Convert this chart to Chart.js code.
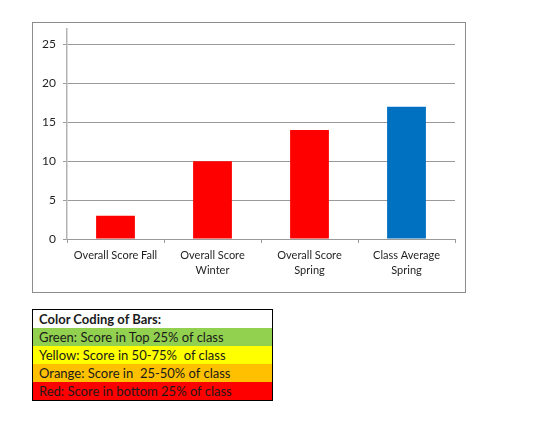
<!DOCTYPE html>
<html>
<head>
<meta charset="utf-8">
<script src="https://cdn.jsdelivr.net/npm/chart.js@4.4.1/dist/chart.umd.min.js"></script>
<style>
    html, body { margin: 0; padding: 0; background: #fff; }
    body { width: 543px; height: 424px; position: relative; overflow: hidden; font-family: Lato, 'Open Sans', sans-serif; }
    #chartBox {
        position: absolute; left: 32px; top: 22px; width: 434px; height: 271px;
        border: 1px solid #8c8c8c; box-sizing: border-box;
    }
    #chartBox canvas { display: block; }
    #colorKey {
        position: absolute; left: 32px; top: 309px; width: 241px;
        border: 1px solid #000; box-sizing: border-box;
        border-collapse: collapse; font-size: 13px; color: #1a1a1a;
    }
    #colorKey td { padding: 0 0 0 6px; height: 18px; line-height: 18px; white-space: nowrap; }
    #colorKey .head td { font-weight: bold; height: 18px; }
</style>
</head>
<body>
<div id="chartBox"><canvas id="scoreChart" width="432" height="269"></canvas></div>
<table id="colorKey"><tbody id="colorKeyBody"></tbody></table>

<script>
const categories = [
    ['Overall Score Fall'],
    ['Overall Score', 'Winter'],
    ['Overall Score', 'Spring'],
    ['Class Average', 'Spring']
];
const scores = [3, 10, 14, 17];
const barColors = ['#ff0000', '#ff0000', '#ff0000', '#0070c0'];
const yTicks = [0, 5, 10, 15, 20, 25];

const keyTitle = 'Color Coding of Bars:';
const keyLabels = [
    'Green: Score in Top 25% of class',
    'Yellow: Score in 50-75%  of class',
    'Orange: Score in  25-50% of class',
    'Red: Score in bottom 25% of class'
];
const keyColors = ['#92d050', '#ffff00', '#ffc000', '#ff0000'];

const theme = {
    grid: '#9a9a9a',
    axis: '#b4b4b4',
    text: '#1f1f1f'
};

Chart.defaults.font.family = "Lato, 'Open Sans', sans-serif";
Chart.defaults.font.size = 11;
Chart.defaults.color = theme.text;

document.addEventListener('DOMContentLoaded', () => {
    renderKey();
    renderChart();
});

function renderKey() {
    const tbody = document.getElementById('colorKeyBody');
    const rows = [`<tr class="head"><td>${keyTitle}</td></tr>`];
    keyLabels.forEach((label, i) => {
        rows.push(`<tr style="background:${keyColors[i]}"><td>${label.replace(/ /g, '&nbsp;')}</td></tr>`);
    });
    tbody.innerHTML = rows.join('');
}

function renderChart() {
    const ctx = document.getElementById('scoreChart').getContext('2d');

    new Chart(ctx, {
        type: 'bar',
        data: {
            labels: categories,
            datasets: [{
                data: scores,
                backgroundColor: barColors,
                borderWidth: 0,
                barPercentage: 0.4,
                categoryPercentage: 1
            }]
        },
        options: {
            responsive: false,
            animation: false,
            layout: { padding: { top: 6, right: 10, left: 0, bottom: 0 } },
            plugins: {
                legend: { display: false },
                tooltip: { enabled: false }
            },
            scales: {
                y: {
                    min: 0,
                    max: 27,
                    afterBuildTicks: (scale) => {
                        scale.ticks = yTicks.map((value) => ({ value }));
                    },
                    afterFit: (scale) => {
                        scale.width = 34;
                        scale.paddingTop = 0;
                        scale.paddingBottom = 0;
                    },
                    grid: {
                        color: theme.grid,
                        lineWidth: 1,
                        drawTicks: true,
                        tickLength: 4
                    },
                    border: { color: theme.axis, width: 1.5 },
                    ticks: { padding: 7, color: theme.text, font: { size: 12 } }
                },
                x: {
                    afterFit: (scale) => {
                        scale.height = 53;
                        scale.paddingLeft = 0;
                        scale.paddingRight = 0;
                    },
                    grid: {
                        offset: true,
                        drawOnChartArea: false,
                        drawTicks: true,
                        tickLength: 4,
                        color: theme.grid
                    },
                    border: { color: theme.grid, width: 1 },
                    ticks: { padding: 5, color: theme.text, maxRotation: 0, autoSkip: false, font: { lineHeight: 1.35 } }
                }
            }
        }
    });
}
</script>
</body>
</html>
